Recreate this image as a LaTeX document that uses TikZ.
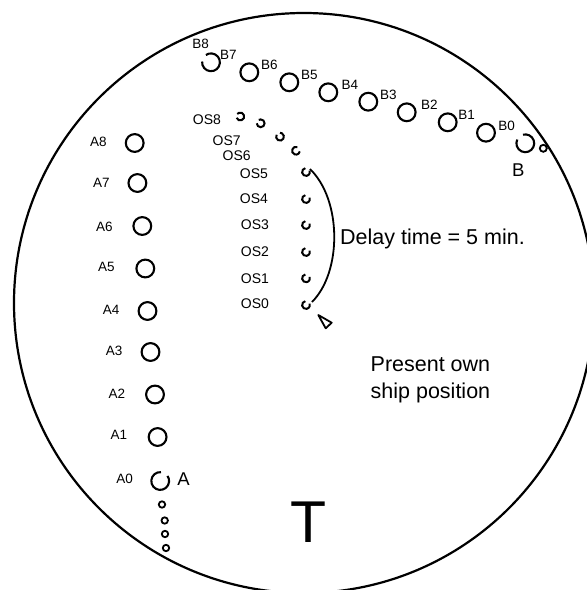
\documentclass[tikz,border=0pt]{standalone}
\usepackage{fontspec}
\setmainfont{Liberation Sans}
\usetikzlibrary{calc}
\begin{document}
\begin{tikzpicture}[x=1pt,y=-1pt,
  tgt/.style={draw, circle, line width=2.1pt, minimum size=17.8pt, inner sep=0pt},
  trail/.style={draw, circle, line width=1.8pt, minimum size=6.4pt, inner sep=0pt},
  brk/.style={line width=2.1pt},
  osm/.style={line width=2pt},
  lbl/.style={font=\fontsize{13.5}{16}\selectfont, inner sep=0pt},
  oslbl/.style={font=\fontsize{14}{16}\selectfont, inner sep=0pt},
  big/.style={font=\fontsize{18.5}{22}\selectfont, inner sep=0pt},
  txt/.style={font=\fontsize{21.5}{26}\selectfont, inner sep=0pt}]
\useasboundingbox (0,0) rectangle (587,590);
\begin{scope}
\clip (0,0) rectangle (587,590);
\draw[line width=2.2pt] (304,303) circle [radius=290pt];
\end{scope}
% A targets
\node[tgt] (a8) at (134.7,143) {};
\node[tgt] (a7) at (137.4,183) {};
\node[tgt] (a6) at (142.3,226) {};
\node[tgt] (a5) at (145.3,268.5) {};
\node[tgt] (a4) at (147.5,311) {};
\node[tgt] (a3) at (150.5,352) {};
\node[tgt] (a2) at (155,394.5) {};
\node[tgt] (a1) at (157.6,437) {};
\coordinate (a0) at (160.2,481);
\draw[brk] ([shift={(85:8.9pt)}]a0) arc[start angle=85, end angle=395, radius=8.9pt];
\node[trail] (at1) at (162,504.5) {};
\node[trail] (at2) at (164.7,520.5) {};
\node[trail] (at3) at (165,534) {};
\node[trail] (at4) at (166,548) {};
\node[lbl] at (98.3,141.7) {A8};
\node[lbl] at (101.5,183) {A7};
\node[lbl] at (104.5,226.5) {A6};
\node[lbl] at (106.3,267) {A5};
\node[lbl] at (111.2,310) {A4};
\node[lbl] at (114.2,351) {A3};
\node[lbl] at (116.8,393.3) {A2};
\node[lbl] at (119,435.3) {A1};
\node[lbl] at (124.7,478.5) {A0};
\node[big] (la) at (183.5,479) {A};
% B targets
\coordinate (b8) at (211,62.3);
\draw[brk] ([shift={(175:8.9pt)}]b8) arc[start angle=175, end angle=485, radius=8.9pt];
\node[tgt] (b6) at (249.3,72.3) {};
\node[tgt] (b5) at (289.3,82.3) {};
\node[tgt] (b4) at (328.3,92.3) {};
\node[tgt] (b3) at (368.3,101.7) {};
\node[tgt] (b2) at (406.7,112.3) {};
\node[tgt] (b1) at (447.7,122.3) {};
\node[tgt] (b0) at (486,132.7) {};
\coordinate (bn) at (525.3,143.3);
\draw[brk] ([shift={(155:8.9pt)}]bn) arc[start angle=155, end angle=465, radius=8.9pt];
\node[draw, circle, line width=1.8pt, minimum size=7pt, inner sep=0pt] (bs) at (543.3,148.3) {};
\node[lbl] at (200.7,44) {B8};
\node[lbl] at (228.3,55) {B7};
\node[lbl] at (269.3,65) {B6};
\node[lbl] at (309.3,75) {B5};
\node[lbl] at (350,85) {B4};
\node[lbl] at (388.3,95) {B3};
\node[lbl] at (429.3,105) {B2};
\node[lbl] at (466.7,115) {B1};
\node[lbl] at (506.7,126) {B0};
\node[big] (lb) at (518.3,170) {B};
% own ship markers
\coordinate (os8) at (240.3,116.5);
\coordinate (os7) at (260.7,123.3);
\coordinate (os6) at (280,136.7);
\coordinate (os6b) at (296,150.7);
\coordinate (os5) at (306,172);
\coordinate (os4) at (306,199);
\coordinate (os3) at (306,225);
\coordinate (os2) at (306,252);
\coordinate (os1) at (306,278.3);
\coordinate (os0) at (306,305);
\draw[osm] ([shift={(200:3.9pt)}]os8) arc[start angle=200, end angle=500, radius=3.9pt];
\draw[osm] ([shift={(180:3.9pt)}]os7) arc[start angle=180, end angle=480, radius=3.9pt];
\draw[osm] ([shift={(150:3.9pt)}]os6) arc[start angle=150, end angle=450, radius=3.9pt];
\draw[osm] ([shift={(70:3.9pt)}]os6b) arc[start angle=70, end angle=350, radius=3.9pt];
\foreach \n in {os5,os4,os3,os2,os1,os0}
  \draw[osm] ([shift={(100:3.9pt)}]\n) arc[start angle=100, end angle=380, radius=3.9pt];
\node[oslbl] at (207,119.6) {OS8};
\node[oslbl] at (226.7,141) {OS7};
\node[oslbl] at (236.7,155.5) {OS6};
\node[oslbl] at (254,174) {OS5};
\node[oslbl] at (254,199) {OS4};
\node[oslbl] at (255,225) {OS3};
\node[oslbl] at (255,251.7) {OS2};
\node[oslbl] at (255,278.3) {OS1};
\node[oslbl] at (255,304) {OS0};
% delay arc
\draw[line width=1.8pt] ($(os5)+(4,-3)$) .. controls (342,200) and (342,272) .. ($(os0)+(6,-3)$);
\node[txt, anchor=base west] (delay) at (340,244.5) {Delay time = 5 min.};
% present own ship position
\draw[line width=1.8pt, line join=round] (318.3,315) -- (331.7,322.7) -- (325.7,328.3) -- cycle;
\node[txt, anchor=base west] (pres1) at (370.5,371) {Present own};
\node[txt, anchor=base west] (pres2) at (370.5,398.5) {ship position};
\node[font=\fontsize{59}{60}\selectfont, inner sep=0pt] (tt) at (308.7,521.7) {T};
\end{tikzpicture}
\end{document}
